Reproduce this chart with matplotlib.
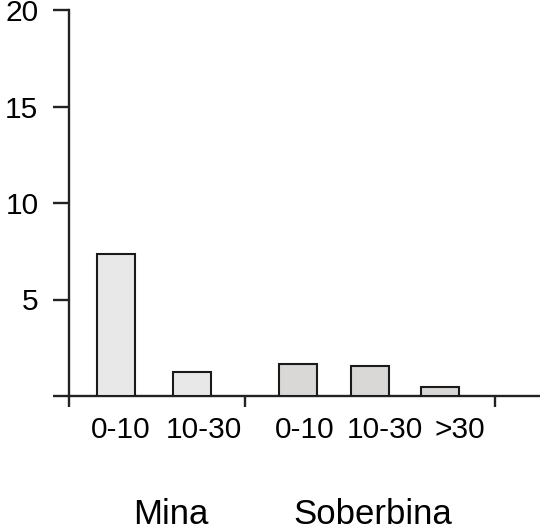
import numpy as np
import matplotlib.pyplot as plt

plt.rcParams['font.family'] = ['Liberation Sans', 'DejaVu Sans']

# data
classes = ['0-10', '10-30', '0-10', '10-30', '>30']
values = [7.36, 1.24, 1.66, 1.55, 0.47]
groups = ['Mina', 'Soberbina']
group_of_bar = [0, 0, 1, 1, 1]
yticks = [5, 10, 15, 20]

# layout (pixel-ish x units, 0 = y axis)
bar_x = [46.5, 122.5, 229, 300.5, 370.5]
label_x = [52, 135, 236, 316, 391]
group_x = [102, 304]
sep_ticks = [0, 176, 426]
colors = ['#e8e8e8', '#d9d8d6']

fig = plt.figure(figsize=(5.4, 5.32), dpi=100)
ax = fig.add_axes([69 / 540, 1 - 396 / 532, 1 - 69 / 540, (396 - 10) / 532])

ax.bar(bar_x, values, width=38, color=[colors[g] for g in group_of_bar],
       edgecolor='#1a1a1a', linewidth=1.5, zorder=3)

ax.set_xlim(0, 471)
ax.set_ylim(0, 20)

for s in ['top', 'right']:
    ax.spines[s].set_visible(False)
for s in ['left', 'bottom']:
    ax.spines[s].set_linewidth(1.7)
    ax.spines[s].set_color('#222222')

ax.set_yticks([0] + yticks)
ax.set_yticklabels([''] + [str(t) for t in yticks], fontsize=21.5)
ax.tick_params(axis='y', length=11.5, width=1.7, color='#222222', pad=10.5)
ax.set_xticks(sep_ticks)
ax.set_xticklabels([])
ax.tick_params(axis='x', length=8, width=1.7, color='#222222')

for x, lab in zip(label_x, classes):
    ax.text(x, -1.75, lab, ha='center', va='center', fontsize=21.5,
            transform=ax.transData, clip_on=False)
for x, g in zip(group_x, groups):
    ax.text(x, -6.15, g, ha='center', va='center', fontsize=25,
            transform=ax.transData, clip_on=False)

plt.savefig('out.png', dpi=100)
